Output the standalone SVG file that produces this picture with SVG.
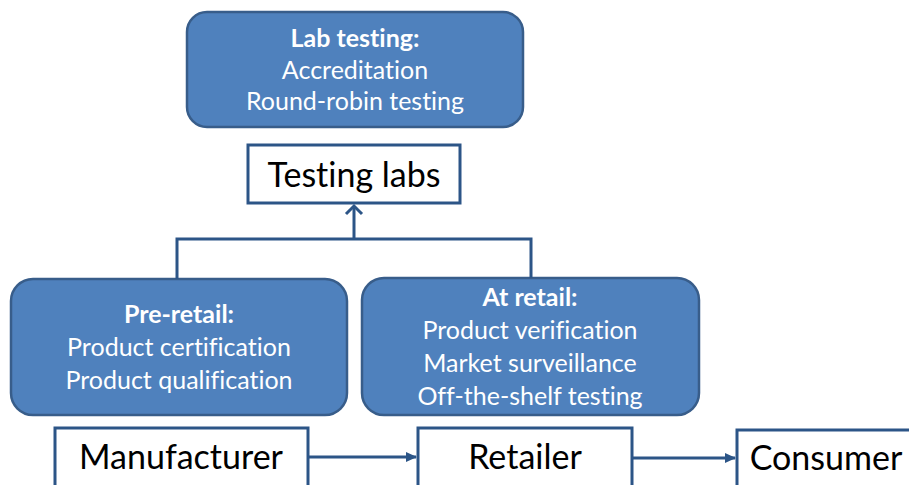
<svg xmlns="http://www.w3.org/2000/svg" width="909" height="485" viewBox="0 0 909 485">
<style>
.blue{fill:#4f81bd;stroke:#385d8a;stroke-width:2.5}
.white{fill:#fff;stroke:#2c5587;stroke-width:3}
.wt{fill:#fff;font-family:Lato,"Open Sans",sans-serif;font-size:25px;text-anchor:middle;font-variant-ligatures:none}
.b{font-weight:bold}
.bt{fill:#000;font-family:Lato,"Open Sans",sans-serif;font-size:34px;text-anchor:middle;font-variant-ligatures:none}
.ln{fill:none;stroke:#2c5587;stroke-width:3}
</style>
<defs>
<marker id="fa" markerWidth="12" markerHeight="12" refX="10" refY="6" orient="auto" markerUnits="userSpaceOnUse">
<path d="M0,1 L11,6 L0,11 Z" fill="#2c5587"/>
</marker>
</defs>
<g id="lab-testing">
<rect class="blue" x="187" y="12" width="336" height="115" rx="20"/>
<text class="wt b" x="355" y="47">Lab testing:</text>
<text class="wt" x="355" y="79">Accreditation</text>
<text class="wt" x="355" y="110">Round-robin testing</text>
</g>
<g id="testing-labs">
<rect class="white" x="248" y="145" width="212" height="58"/>
<text class="bt" x="354" y="187">Testing labs</text>
</g>
<g id="pre-retail">
<rect class="blue" x="11" y="279" width="336" height="136" rx="22"/>
<text class="wt b" x="179" y="323">Pre-retail:</text>
<text class="wt" x="179" y="356">Product certification</text>
<text class="wt" x="179" y="389">Product qualification</text>
</g>
<g id="at-retail">
<rect class="blue" x="362" y="278" width="337" height="137" rx="22"/>
<text class="wt b" x="530" y="306">At retail:</text>
<text class="wt" x="530" y="339">Product verification</text>
<text class="wt" x="530" y="372">Market surveillance</text>
<text class="wt" x="530" y="405">Off-the-shelf testing</text>
</g>
<g id="manufacturer">
<rect class="white" x="55" y="428" width="253" height="60"/>
<text class="bt" x="181" y="469">Manufacturer</text>
</g>
<g id="retailer">
<rect class="white" x="418" y="428" width="214" height="60"/>
<text class="bt" x="525" y="469">Retailer</text>
</g>
<g id="consumer">
<rect class="white" x="737" y="430" width="180" height="60"/>
<text class="bt" x="826" y="470">Consumer</text>
</g>
<g id="connectors">
<path class="ln" d="M177,279 V239 H531 V278"/>
<path class="ln" d="M354,239 V206"/>
<path class="ln" d="M346,214 L354,206 L362,214"/>
<path class="ln" d="M308,457 H416" marker-end="url(#fa)"/>
<path class="ln" d="M632,458 H735" marker-end="url(#fa)"/>
</g>
</svg>
